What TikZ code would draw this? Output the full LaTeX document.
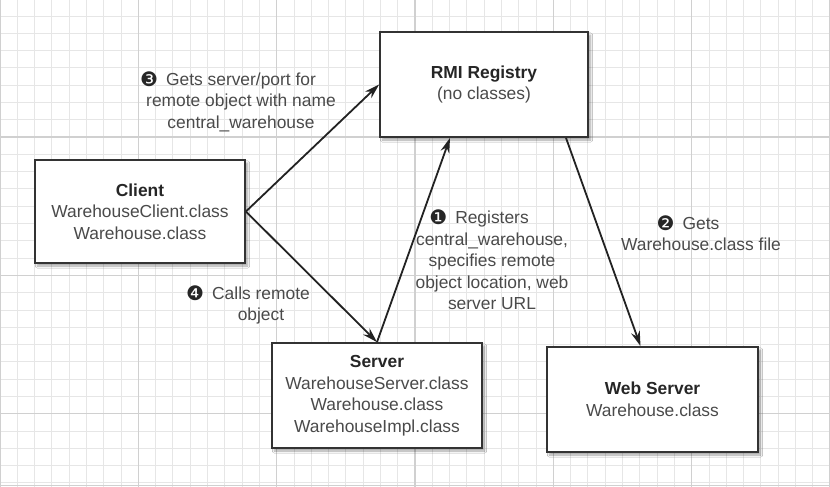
\documentclass[tikz,border=0pt]{standalone}
\usepackage{fontspec}
\setmainfont{Liberation Sans}
\newfontfamily\dejavu{DejaVu Sans}
\usetikzlibrary{arrows.meta,shadows.blur}
\definecolor{gridminor}{HTML}{E6E6E6}
\definecolor{gridmajor}{HTML}{D0D0D0}
\definecolor{boxline}{HTML}{333333}
\definecolor{txt}{HTML}{4A4A4A}
\definecolor{ttl}{HTML}{262626}
\definecolor{arrcol}{HTML}{222222}
\newcommand{\bul}[1]{\llap{\raisebox{-1pt}{\dejavu\fontsize{20}{20}\selectfont\color{ttl}#1}\hspace{8pt}}}
\tikzset{
  box/.style={draw=boxline, line width=1.8pt, fill=white, align=center,
    text=txt, font=\fontsize{17.4}{21.5}\selectfont, inner sep=0pt,
    blur shadow={shadow xshift=2.5pt, shadow yshift=-3pt, shadow blur steps=6, shadow opacity=35}},
  lbl/.style={align=center, text=txt, font=\fontsize{17.4}{21.5}\selectfont, inner sep=0pt},
  arr/.style={draw=arrcol, line width=1.8pt, -{Stealth[length=15pt,width=9pt]}},
  gminor/.style={draw=gridminor, line width=0.9pt},
  gmajor/.style={draw=gridmajor, line width=1.1pt}
}
\newcommand{\ttlt}[1]{{\bfseries\color{ttl}#1}}
\begin{document}
\begin{tikzpicture}[x=1pt,y=-1pt]
\useasboundingbox (0,0) rectangle (830,487);
\fill[white] (0,0) rectangle (830,487);
% grid
\foreach \i in {0,...,48} { \path[gminor] (\i*17.2917,0) -- (\i*17.2917,487); }
\foreach \j in {0,...,28} { \path[gminor] (0,-1.3+\j*17.2917) -- (830,-1.3+\j*17.2917); }
\foreach \i in {0,...,6} { \path[gmajor] (\i*138.333,0) -- (\i*138.333,487); }
\foreach \j in {0,...,3} { \path[gmajor] (0,-1.3+\j*138.333) -- (830,-1.3+\j*138.333); }
\path[gmajor] (0,485.5) -- (830,485.5);
% boxes
\node[box, minimum width=210pt, minimum height=103pt] (client) at (140,211.5)
  {\ttlt{Client}\\WarehouseClient.class\\Warehouse.class};
\node[box, minimum width=208pt, minimum height=105pt] (rmi) at (484,84.5)
  {\ttlt{RMI Registry}\\(no classes)};
\node[box, minimum width=210pt, minimum height=105pt] (server) at (377,395.5)
  {\ttlt{Server}\\WarehouseServer.class\\Warehouse.class\\WarehouseImpl.class};
\node[box, minimum width=211pt, minimum height=105pt] (web) at (652.5,399.5)
  {\ttlt{Web Server}\\Warehouse.class};
% arrows
\draw[arr] (client.east) -- (rmi.west);
\draw[arr] (client.east) -- (server.north);
\draw[arr] (server.north) -- ([xshift=-34pt]rmi.south);
\draw[arr] ([xshift=82pt]rmi.south) -- ([xshift=-12pt]web.north);
% labels
\node[lbl] (l3) at (241,101.5) {\bul{❸}Gets server/port for\\remote object with name\\central\_warehouse};
\node[lbl] (l1) at (492,260) {\bul{❶}Registers\\central\_warehouse,\\specifies remote\\object location, web\\server URL};
\node[lbl] (l2) at (701,233) {\bul{❷}Gets\\Warehouse.class file};
\node[lbl] (l4) at (261,305) {\bul{❹}Calls remote\\object};
\end{tikzpicture}
\end{document}
